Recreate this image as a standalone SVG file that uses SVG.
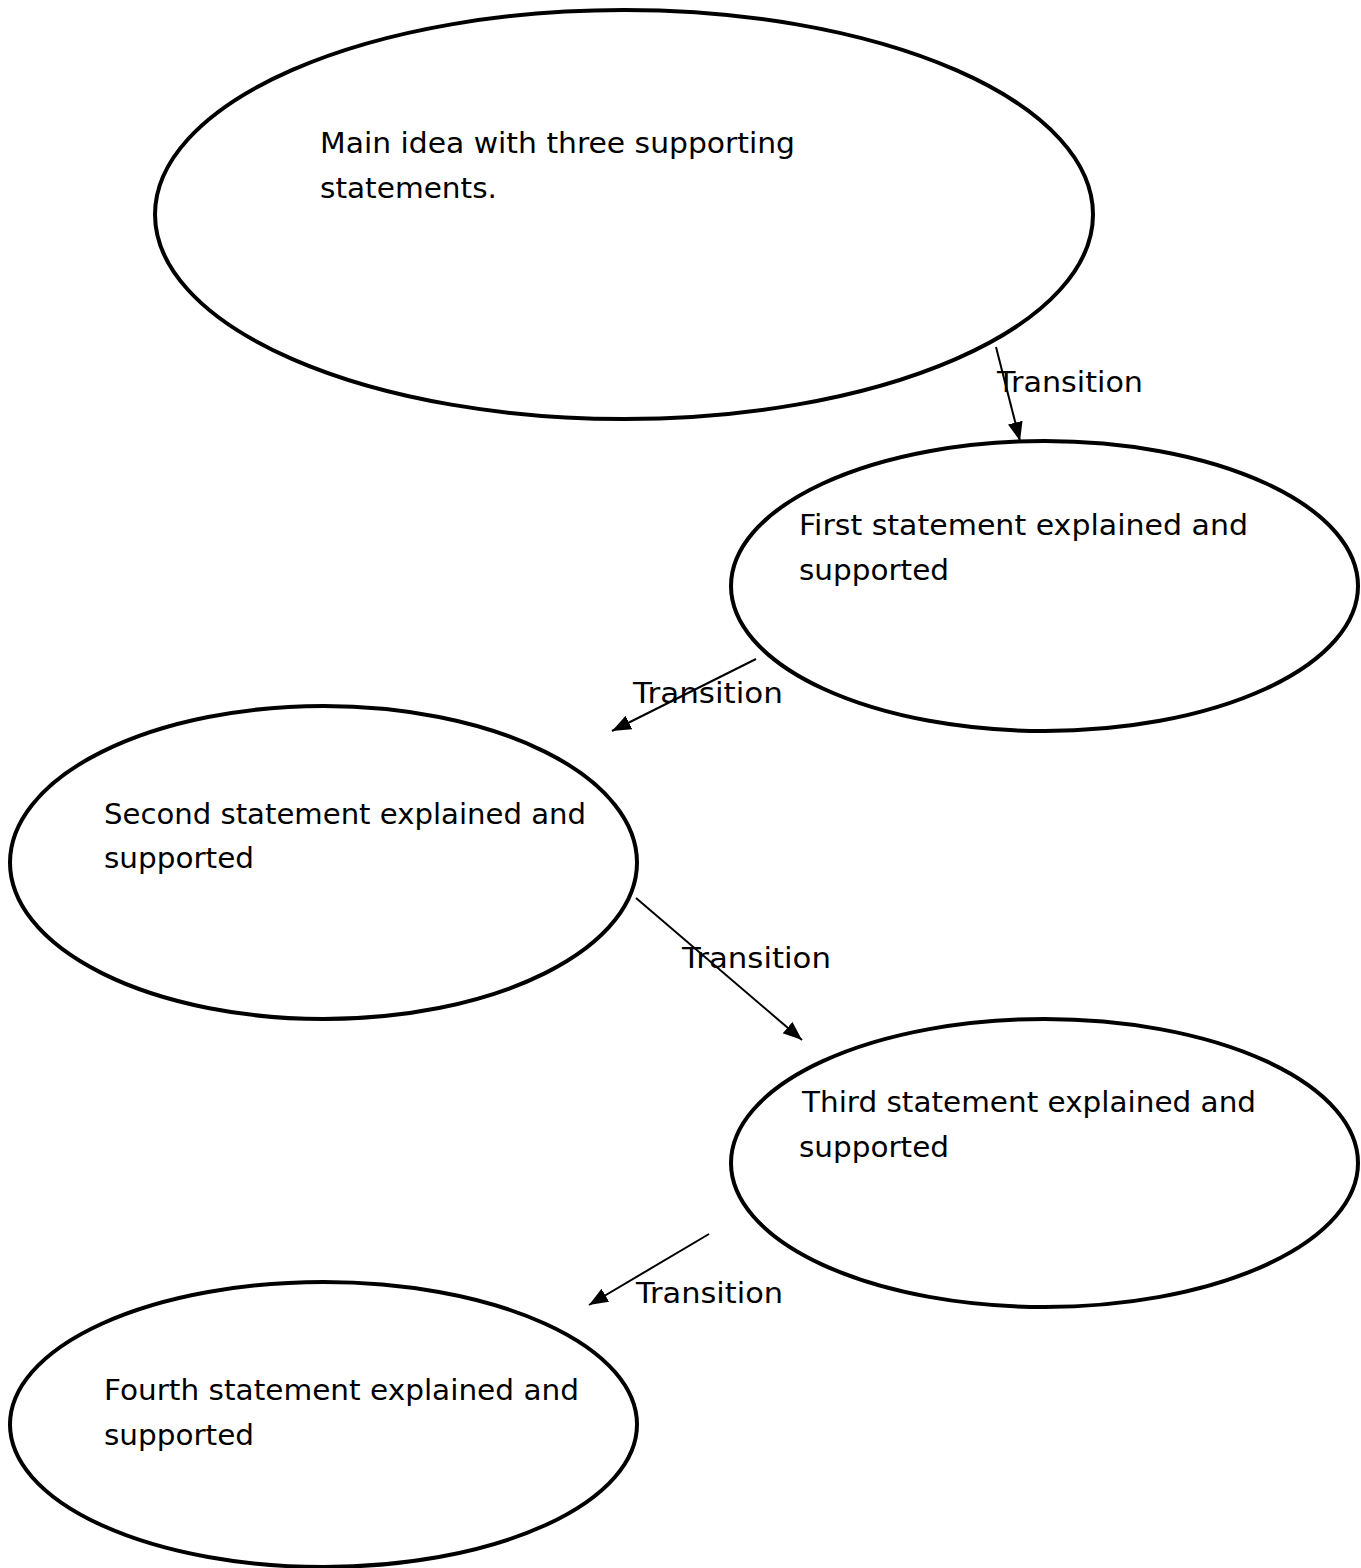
<svg xmlns="http://www.w3.org/2000/svg" width="1361" height="1568" viewBox="0 0 1361 1568">
<style>
.node ellipse{fill:#fff;stroke:#000;stroke-width:4}
text{font-family:"DejaVu Sans","Liberation Sans",sans-serif;font-size:28px;fill:#000}
.conn line{stroke:#000;stroke-width:2}
</style>
<defs>
<marker id="ah" markerUnits="userSpaceOnUse" markerWidth="22" markerHeight="18" refX="19" refY="7.5" orient="auto">
<path d="M0,0 L19,7.5 L0,15 Z" fill="#000"/>
</marker>
</defs>
<rect width="1361" height="1568" fill="#fff"/>
<g id="main" class="node">
<ellipse cx="624" cy="214.5" rx="469" ry="204.5"/>
<text x="320" y="153" textLength="475" lengthAdjust="spacingAndGlyphs">Main idea with three supporting</text>
<text x="320" y="198" textLength="177" lengthAdjust="spacingAndGlyphs">statements.</text>
</g>
<g id="first" class="node">
<ellipse cx="1044.5" cy="586" rx="313.5" ry="145"/>
<text x="799" y="535" textLength="449" lengthAdjust="spacingAndGlyphs">First statement explained and</text>
<text x="799" y="580" textLength="150" lengthAdjust="spacingAndGlyphs">supported</text>
</g>
<g id="second" class="node">
<ellipse cx="323.5" cy="862.5" rx="313.5" ry="156.5"/>
<text x="104" y="824" textLength="482" lengthAdjust="spacingAndGlyphs">Second statement explained and</text>
<text x="104" y="868" textLength="150" lengthAdjust="spacingAndGlyphs">supported</text>
</g>
<g id="third" class="node">
<ellipse cx="1044.5" cy="1163" rx="313.5" ry="144"/>
<text x="802" y="1112" textLength="454" lengthAdjust="spacingAndGlyphs">Third statement explained and</text>
<text x="799" y="1157" textLength="150" lengthAdjust="spacingAndGlyphs">supported</text>
</g>
<g id="fourth" class="node">
<ellipse cx="323.5" cy="1424.5" rx="313.5" ry="142.5"/>
<text x="104" y="1400" textLength="475" lengthAdjust="spacingAndGlyphs">Fourth statement explained and</text>
<text x="104" y="1445" textLength="150" lengthAdjust="spacingAndGlyphs">supported</text>
</g>
<g id="connectors" class="conn">
<line x1="996" y1="347" x2="1020" y2="441" marker-end="url(#ah)"/>
<line x1="756" y1="659" x2="612" y2="731" marker-end="url(#ah)"/>
<line x1="636" y1="898" x2="802" y2="1040" marker-end="url(#ah)"/>
<line x1="709" y1="1234" x2="589" y2="1305" marker-end="url(#ah)"/>
<text x="997" y="392" textLength="146" lengthAdjust="spacingAndGlyphs">Transition</text>
<text x="633" y="703" textLength="150" lengthAdjust="spacingAndGlyphs">Transition</text>
<text x="682" y="968" textLength="149" lengthAdjust="spacingAndGlyphs">Transition</text>
<text x="636" y="1303" textLength="147" lengthAdjust="spacingAndGlyphs">Transition</text>
</g>
</svg>
